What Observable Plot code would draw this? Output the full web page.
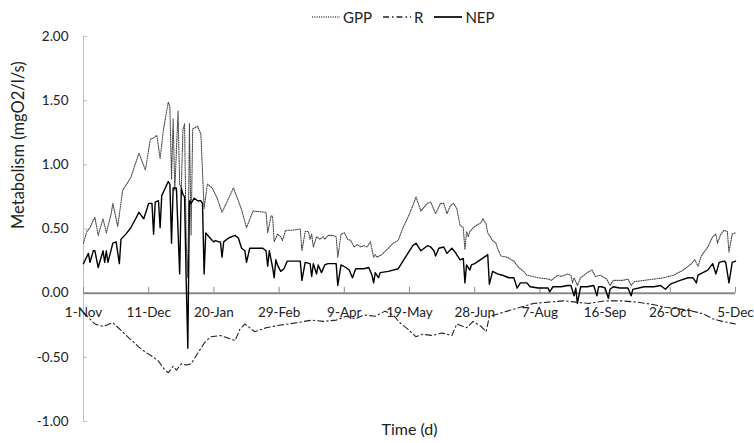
<!DOCTYPE html>
<html><head><meta charset="utf-8">
<script src="https://cdn.jsdelivr.net/npm/d3@7"></script>
<script src="https://cdn.jsdelivr.net/npm/@observablehq/plot@0.6"></script>
<style>
body{margin:0;background:#fff;}
#wrap{position:relative;width:754px;height:443px;font-family:Lato,sans-serif;color:#222;}
#legend{position:absolute;top:8px;left:312px;display:flex;align-items:center;font-size:15px;white-space:nowrap;}
#legend span{display:inline-flex;align-items:center;margin-right:11px;}
#legend svg{margin-right:3px;}
</style></head>
<body><div id="wrap"><div id="legend"></div></div>
<script>
// ---- data (day offset from 1-Nov, value in mgO2/l/s) ----
const startDate = Date.UTC(2015, 10, 1);
const gppDay = [0,2,4,6,7,9,12,14,17,18,21,24,29,34,38,41,43,45,47,49,52,53,54,55,56,58,59,60,61,62,63,64,65,66,67,70,72,74,76,79,82,85,92,95,97,100,104,112,113,115,116,117,119,121,122,124,128,133,134,136,138,139,140,141,143,145,147,148,150,153,155,156,158,160,162,164,166,168,170,172,174,176,178,179,180,183,187,190,193,196,199,202,204,207,209,211,213,216,219,221,223,225,227,229,231,233,234,235,236,237,240,244,245,247,248,251,253,254,256,260,264,267,270,272,279,285,287,291,293,297,299,300,301,303,305,309,312,314,317,321,323,325,331,334,336,338,344,350,356,362,368,373,375,377,379,383,386,388,389,391,393,395,396,398,400];
const gppVal = [0.39,0.48,0.51,0.57,0.59,0.45,0.58,0.47,0.62,0.70,0.52,0.80,0.90,1.09,0.96,1.20,1.21,1.23,1.05,1.27,1.49,1.45,0.89,1.36,0.80,1.42,0.85,0.82,1.27,1.32,0.40,0.12,1.32,0.45,1.28,1.30,1.24,0.66,0.85,0.82,0.74,0.63,0.82,0.72,0.65,0.51,0.64,0.63,0.47,0.60,0.60,0.40,0.46,0.44,0.41,0.49,0.49,0.50,0.33,0.48,0.48,0.42,0.46,0.36,0.44,0.42,0.44,0.42,0.45,0.45,0.44,0.28,0.46,0.47,0.42,0.41,0.36,0.38,0.36,0.37,0.36,0.40,0.28,0.30,0.28,0.30,0.35,0.39,0.41,0.51,0.59,0.68,0.75,0.64,0.67,0.70,0.71,0.62,0.70,0.70,0.62,0.68,0.70,0.66,0.53,0.51,0.34,0.48,0.44,0.48,0.52,0.55,0.58,0.54,0.47,0.41,0.39,0.35,0.29,0.28,0.25,0.20,0.17,0.14,0.12,0.11,0.10,0.14,0.13,0.15,0.14,0.08,0.12,0.06,0.12,0.16,0.18,0.13,0.14,0.11,0.06,0.10,0.10,0.11,0.06,0.09,0.10,0.11,0.12,0.14,0.18,0.23,0.26,0.21,0.29,0.36,0.44,0.46,0.39,0.46,0.49,0.48,0.32,0.46,0.47];
const rDay = [0,7,12,18,23,28,34,38,43,46,50,52,55,57,60,63,66,71,74,78,84,93,96,99,105,112,120,126,131,140,147,155,161,167,172,179,185,190,194,199,204,208,214,220,226,229,235,239,244,247,249,252,260,268,276,285,295,302,310,320,330,340,350,357,363,370,380,386,392,400];
const rVal = [-0.15,-0.24,-0.26,-0.23,-0.29,-0.35,-0.42,-0.46,-0.50,-0.53,-0.60,-0.62,-0.57,-0.60,-0.55,-0.56,-0.55,-0.45,-0.39,-0.34,-0.33,-0.37,-0.28,-0.24,-0.30,-0.27,-0.25,-0.24,-0.23,-0.21,-0.22,-0.21,-0.18,-0.20,-0.17,-0.18,-0.14,-0.17,-0.23,-0.28,-0.34,-0.32,-0.33,-0.31,-0.33,-0.24,-0.27,-0.22,-0.26,-0.30,-0.18,-0.17,-0.14,-0.11,-0.08,-0.07,-0.06,-0.07,-0.08,-0.06,-0.06,-0.07,-0.09,-0.11,-0.12,-0.13,-0.16,-0.20,-0.22,-0.24];
const nepDay = [0,3,4,6,7,9,12,13,14,15,18,20,22,23,26,29,32,34,37,40,42,43,44,46,47,48,52,53,54,55,57,59,60,61,62,63,64,65,66,68,70,72,73,74,75,77,79,80,81,83,84,85,86,89,93,95,97,99,100,102,106,110,112,113,114,116,117,118,119,121,123,125,128,133,134,136,139,140,141,143,144,146,148,150,155,156,158,161,163,165,167,172,175,177,178,179,181,182,187,193,196,199,202,204,207,209,211,213,215,216,218,221,223,226,228,231,233,234,235,237,238,240,247,248,249,251,254,257,259,261,264,266,268,272,274,279,285,286,288,293,297,299,301,302,303,305,309,313,315,316,318,320,322,323,325,329,334,336,337,344,350,354,357,360,366,371,374,376,377,380,383,386,388,390,393,394,396,398,400];
const nepVal = [0.23,0.31,0.24,0.33,0.33,0.20,0.33,0.24,0.33,0.24,0.39,0.40,0.23,0.42,0.46,0.51,0.58,0.63,0.58,0.70,0.70,0.46,0.71,0.72,0.51,0.76,0.87,0.85,0.39,0.82,0.82,0.15,0.82,0.77,0.75,0.10,-0.43,0.72,0.70,0.74,0.72,0.72,0.70,0.15,0.47,0.44,0.41,0.40,0.41,0.40,0.40,0.28,0.40,0.43,0.45,0.43,0.35,0.33,0.24,0.35,0.35,0.35,0.33,0.21,0.33,0.20,0.12,0.26,0.22,0.17,0.19,0.25,0.25,0.25,0.10,0.24,0.23,0.13,0.23,0.15,0.22,0.16,0.22,0.23,0.23,0.06,0.22,0.20,0.18,0.12,0.19,0.19,0.20,0.14,0.08,0.16,0.12,0.16,0.17,0.19,0.25,0.31,0.37,0.39,0.33,0.35,0.37,0.36,0.33,0.29,0.35,0.36,0.31,0.35,0.32,0.26,0.27,0.08,0.22,0.18,0.22,0.23,0.29,0.30,0.07,0.17,0.15,0.14,0.13,0.12,0.12,0.04,0.08,0.08,0.05,0.04,0.04,0.01,0.05,0.05,0.06,0.06,-0.02,0.04,-0.08,0.05,0.05,0.06,-0.02,0.05,0.05,0.04,-0.04,0.03,0.05,0.04,0.04,-0.02,0.03,0.05,0.05,0.06,0.03,0.07,0.10,0.12,0.12,0.08,0.14,0.16,0.18,0.23,0.15,0.24,0.25,0.24,0.08,0.24,0.25];
const xTickDays = [0,40,80,120,160,200,240,280,320,360,400];
const xTickLabels = ["1-Nov","11-Dec","20-Jan","29-Feb","9-Apr","19-May","28-Jun","7-Aug","16-Sep","26-Oct","5-Dec"];
const yTicks = [-1,-0.5,0,0.5,1,1.5,2];
const yTickLabels = ["-1.00","-0.50","0.00","0.50","1.00","1.50","2.00"];
const seriesNames = ["GPP","R","NEP"];

const toDate = d => new Date(startDate + d * 864e5);
const mk = (days, vals) => days.map((d, i) => ({date: toDate(d), v: vals[i]}));
const gpp = mk(gppDay, gppVal), res = mk(rDay, rVal), nep = mk(nepDay, nepVal);
const xt = xTickDays.map((d, i) => ({date: toDate(d), label: xTickLabels[i]}));
const yt = yTicks.map((v, i) => ({v, label: yTickLabels[i]}));

const styles = {
  GPP: {stroke: "#444", strokeWidth: 1.1, dash: "1,1.3"},
  R: {stroke: "#222", strokeWidth: 1.1, dash: "6,3,1.5,3"},
  NEP: {stroke: "#000", strokeWidth: 1.4, dash: null}
};

const chart = Plot.plot({
  width: 754, height: 443,
  marginLeft: 83, marginRight: 19, marginTop: 36, marginBottom: 22,
  style: {fontFamily: "Lato, sans-serif", fontSize: "13px", color: "#222", background: "#fff"},
  x: {type: "utc", domain: [toDate(0), toDate(400)], axis: null},
  y: {domain: [-1, 2], axis: null},
  marks: [
    Plot.ruleX([toDate(0)], {y1: -1, y2: 2, stroke: "#bfbfbf", strokeWidth: 1}),
    Plot.tickY(yt, {y: "v", stroke: "#bfbfbf", insetRight: 648}),
    Plot.text(yt, {x: toDate(0), y: "v", text: "label", textAnchor: "end", dx: -15, fill: "#222", fontSize: 13.5}),
    Plot.line(gpp, {x: "date", y: "v", stroke: styles.GPP.stroke, strokeWidth: styles.GPP.strokeWidth, strokeDasharray: styles.GPP.dash}),
    Plot.line(res, {x: "date", y: "v", stroke: styles.R.stroke, strokeWidth: styles.R.strokeWidth, strokeDasharray: styles.R.dash}),
    Plot.ruleY([0], {stroke: "#8a8a8a", strokeWidth: 2}),
    Plot.ruleX(xt, {x: "date", y1: 0, y2: 0.045, stroke: "#8a8a8a", strokeWidth: 1}),
    Plot.line(nep, {x: "date", y: "v", stroke: styles.NEP.stroke, strokeWidth: styles.NEP.strokeWidth}),
    Plot.text(xt, {x: "date", y: 0, text: "label", dy: 20, fill: "#222", fontSize: 13.5}),
    Plot.text(["Metabolism (mgO2/l/s)"], {frameAnchor: "left", dx: -65, rotate: -90, fontSize: 16.5, fill: "#222"}),
    Plot.text(["Time (d)"], {frameAnchor: "bottom", dy: 13, fontSize: 16, fill: "#222"})
  ]
});
document.getElementById("wrap").appendChild(chart);
chart.style.position = "absolute"; chart.style.left = "0"; chart.style.top = "0";

const leg = document.getElementById("legend");
seriesNames.forEach(n => {
  const s = styles[n];
  const span = document.createElement("span");
  span.innerHTML = `<svg width="28" height="10"><line x1="0" y1="5" x2="28" y2="5" stroke="${s.stroke}" stroke-width="${s.strokeWidth + 0.3}" ${s.dash ? `stroke-dasharray="${s.dash}"` : ""}/></svg>${n}`;
  leg.appendChild(span);
});
leg.style.zIndex = 2;
</script></body></html>
